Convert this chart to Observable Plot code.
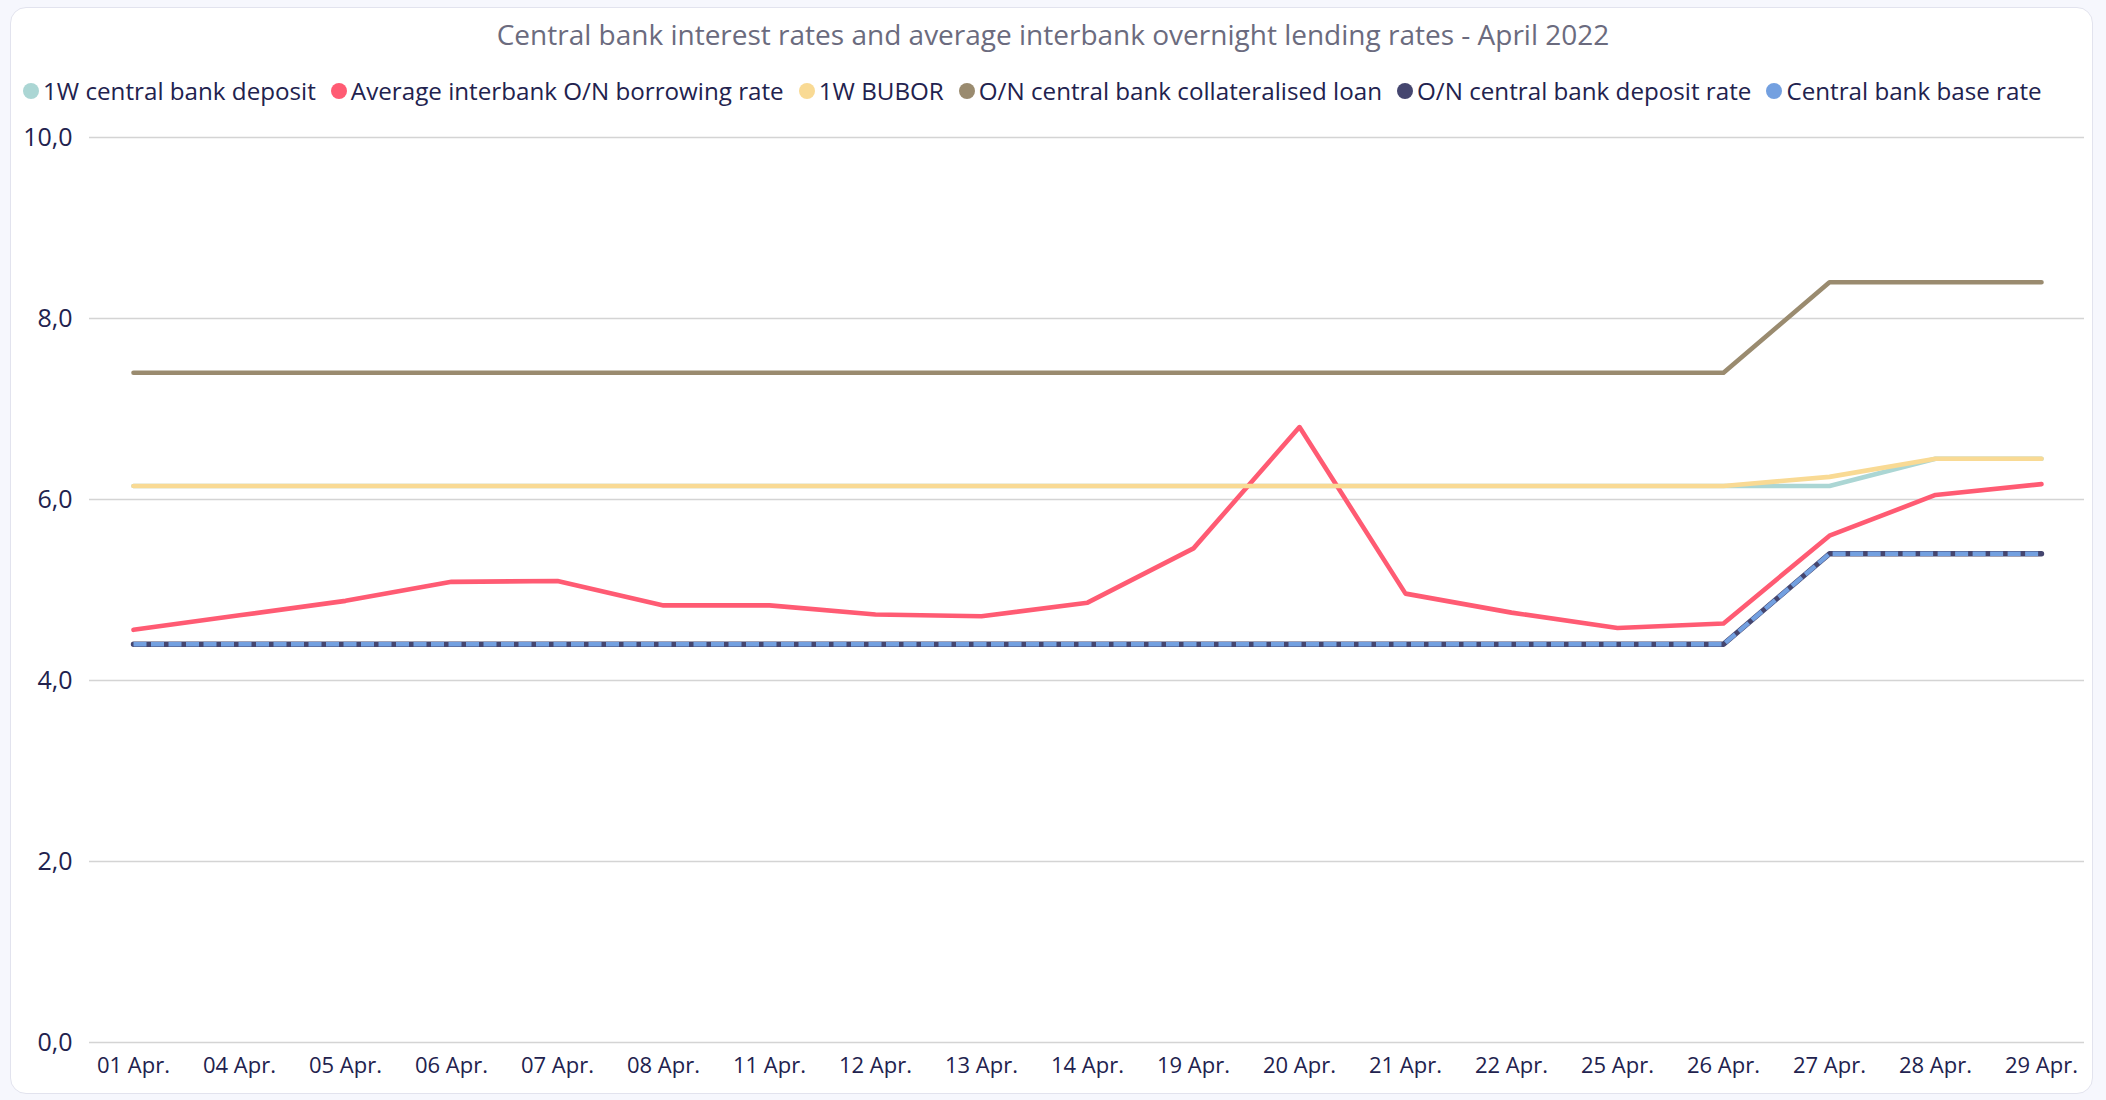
<!DOCTYPE html>
<html>
<head>
<meta charset="utf-8">
<script src="https://cdn.jsdelivr.net/npm/d3@7"></script>
<script src="https://cdn.jsdelivr.net/npm/@observablehq/plot@0.6"></script>
<style>
  html, body { margin: 0; padding: 0; background: #f6f7fd; width: 2106px; height: 1100px; overflow: hidden; font-family: "Open Sans", sans-serif; }
  #card { position: absolute; left: 10px; top: 7px; width: 2083px; height: 1087px; background: #fff; border: 1.5px solid #e2e3ee; border-radius: 16px; box-sizing: border-box; }
  #title { position: absolute; left: 0; top: 14px; width: 2106px; text-align: center; font-size: 28px; color: #6b6b7e; line-height: 40px; }
  #legend { position: absolute; left: 23px; top: 73px; display: flex; gap: 15px; font-size: 24.2px; color: #22224e; line-height: 36px; white-space: nowrap; }
  #legend .item { display: flex; align-items: center; gap: 4px; }
  #legend .dot { width: 16px; height: 16px; border-radius: 50%; display: inline-block; }
  #chart { position: absolute; left: 0; top: 110px; }
</style>
</head>
<body>
<div id="card"></div>
<div id="title">Central bank interest rates and average interbank overnight lending rates - April 2022</div>
<div id="legend"></div>
<div id="chart"></div>
<script>
const dates = ["01 Apr.","04 Apr.","05 Apr.","06 Apr.","07 Apr.","08 Apr.","11 Apr.","12 Apr.","13 Apr.","14 Apr.","19 Apr.","20 Apr.","21 Apr.","22 Apr.","25 Apr.","26 Apr.","27 Apr.","28 Apr.","29 Apr."];
const deposit1W   = [6.15,6.15,6.15,6.15,6.15,6.15,6.15,6.15,6.15,6.15,6.15,6.15,6.15,6.15,6.15,6.15,6.15,6.45,6.45];
const interbankON = [4.56,4.72,4.88,5.09,5.10,4.83,4.83,4.73,4.71,4.86,5.46,6.80,4.96,4.75,4.58,4.63,5.60,6.05,6.17];
const bubor1W     = [6.15,6.15,6.15,6.15,6.15,6.15,6.15,6.15,6.15,6.15,6.15,6.15,6.15,6.15,6.15,6.15,6.25,6.45,6.45];
const collateralON= [7.40,7.40,7.40,7.40,7.40,7.40,7.40,7.40,7.40,7.40,7.40,7.40,7.40,7.40,7.40,7.40,8.40,8.40,8.40];
const depositON   = [4.40,4.40,4.40,4.40,4.40,4.40,4.40,4.40,4.40,4.40,4.40,4.40,4.40,4.40,4.40,4.40,5.40,5.40,5.40];
const baseRate    = [4.40,4.40,4.40,4.40,4.40,4.40,4.40,4.40,4.40,4.40,4.40,4.40,4.40,4.40,4.40,4.40,5.40,5.40,5.40];
const yTicks = [0, 2, 4, 6, 8, 10];

const series = [
  {name: "1W central bank deposit", values: deposit1W, color: "#abd6d4"},
  {name: "Average interbank O/N borrowing rate", values: interbankON, color: "#ff5b73"},
  {name: "1W BUBOR", values: bubor1W, color: "#f9da94"},
  {name: "O/N central bank collateralised loan", values: collateralON, color: "#9a8b6f"},
  {name: "O/N central bank deposit rate", values: depositON, color: "#45466f"},
  {name: "Central bank base rate", values: baseRate, color: "#73a0e0"}
];

const legend = document.getElementById("legend");
for (const s of series) {
  const it = document.createElement("div");
  it.className = "item";
  it.innerHTML = `<span class="dot" style="background:${s.color}"></span><span>${s.name}</span>`;
  legend.appendChild(it);
}

const rows = s => dates.map((d, i) => ({date: d, value: s.values[i]}));

const marks = [
  Plot.ruleY(yTicks, {stroke: "#d4d4d4", strokeWidth: 1.6}),
  Plot.axisY({ticks: yTicks, tickSize: 0, tickPadding: 17, fontSize: 25, label: null, fill: "#22224e", tickFormat: d => d.toFixed(1).replace(".", ",")}),
  Plot.axisX({tickSize: 0, tickPadding: 15, fontSize: 22, label: null, fill: "#22224e"})
];
series.forEach((s) => {
  const opts = {x: "date", y: "value", stroke: s.color, strokeWidth: 4.6, strokeLinecap: "round", strokeLinejoin: "round"};
  if (s.name === "O/N central bank deposit rate") {
    opts.strokeWidth = 5.4;
  }
  if (s.name === "Central bank base rate") {
    opts.strokeDasharray = "13,4.5";
    opts.strokeLinecap = "butt";
    opts.strokeWidth = 4.4;
  }
  marks.push(Plot.line(rows(s), opts));
});

const chart = Plot.plot({
  width: 2106,
  height: 982,
  marginLeft: 89,
  marginRight: 22,
  marginTop: 27,
  marginBottom: 50,
  style: {fontFamily: "Open Sans, sans-serif", fontSize: "22px", color: "#22224e", background: "transparent", overflow: "visible"},
  x: {type: "point", domain: dates, padding: 0.4},
  y: {domain: [0, 10]},
  marks
});
document.getElementById("chart").appendChild(chart);
</script>
</body>
</html>
